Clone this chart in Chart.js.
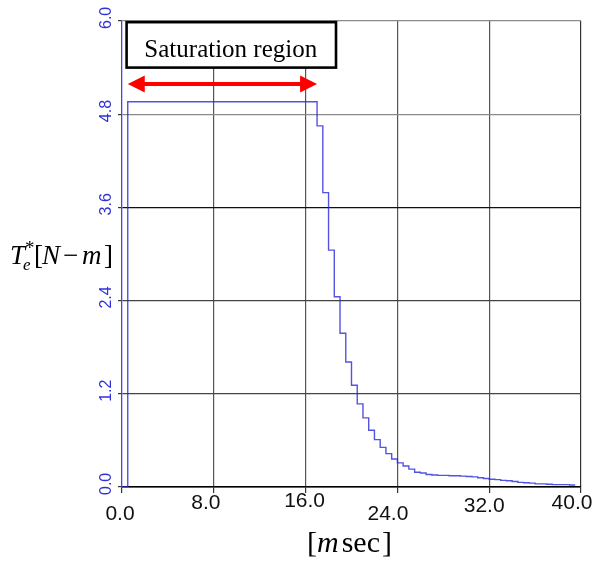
<!DOCTYPE html>
<html>
<head>
<meta charset="utf-8">
<script src="https://cdn.jsdelivr.net/npm/chart.js@4.4.1/dist/chart.umd.min.js"></script>
<style>
  html, body { margin: 0; padding: 0; background: #fff; }
  #wrap { width: 607px; height: 565px; }
</style>
</head>
<body>
<div id="wrap"><canvas id="torqueChart" width="607" height="565"></canvas></div>
<script>
// torque command samples (held for 0.5 ms each)
const timeMs = [0, 0.5, 17.0, 17.5, 18.0, 18.5, 19.0, 19.5, 20.0, 20.5, 21.0, 21.5, 22.0, 22.5,
    23.0, 23.5, 24.0, 24.5, 25.0, 25.5, 26.0, 26.5, 27.0, 27.5, 28.0, 28.5, 29.0, 29.5, 30.0,
    30.5, 31.0, 31.5, 32.0, 32.5, 33.0, 33.5, 34.0, 34.5, 35.0, 35.5, 36.0, 36.5, 37.0, 37.5,
    38.0, 38.5, 39.0, 39.5];
const torque = [0, 4.96, 4.65, 3.79, 3.05, 2.45, 1.98, 1.61, 1.31, 1.07, 0.89, 0.73, 0.61, 0.51,
    0.43, 0.36, 0.31, 0.27, 0.23, 0.19, 0.18, 0.16, 0.155, 0.15, 0.15, 0.145, 0.145, 0.14, 0.135,
    0.13, 0.12, 0.11, 0.10, 0.095, 0.085, 0.08, 0.07, 0.06, 0.055, 0.05, 0.04, 0.04, 0.035, 0.03,
    0.03, 0.03, 0.025, 0.025];

const xTickValues = [0, 8, 16, 24, 32, 40];
const xTickLabels = ['0.0', '8.0', '16.0', '24.0', '32.0', '40.0'];
const yTickValues = [0, 1.2, 2.4, 3.6, 4.8, 6.0];
const yTickLabels = ['0.0', '1.2', '2.4', '3.6', '4.8', '6.0'];

// saturation window: from the first jump to the first drop
const satStart = timeMs[1];
const satEnd = timeMs[2];

// small per-label offsets for the x tick labels [dx, dy below axis]
const xLabelNudge = [[-2, 27], [-8, 16], [-1, 14], [-9.5, 27], [-5, 19], [-9, 16]];

const yGridColors = ['#000000', '#444444', '#444444', '#111111', '#8a8a8a', '#8a8a8a'];
const xGridColors = ['rgba(0,0,0,0)', '#555555', '#555555', '#555555', '#555555', '#333333'];

const SERIF = '"Liberation Serif", "Times New Roman", serif';
const SANS = '"Liberation Sans", Arial, sans-serif';

const decorPlugin = {
    id: 'decor',
    afterDatasetsDraw(chart) {
        const ctx = chart.ctx;
        const xs = chart.scales.x, ys = chart.scales.y;

        // label box
        const bx0 = xs.getPixelForValue(0.4), bx1 = xs.getPixelForValue(18.65);
        const by0 = ys.getPixelForValue(5.985), by1 = ys.getPixelForValue(5.40);
        ctx.save();
        ctx.fillStyle = '#fff';
        ctx.fillRect(bx0, by0, bx1 - bx0, by1 - by0);
        ctx.strokeStyle = '#000';
        ctx.lineWidth = 2.6;
        ctx.strokeRect(bx0, by0, bx1 - bx0, by1 - by0);
        ctx.fillStyle = '#000';
        ctx.font = '25px ' + SERIF;
        ctx.textAlign = 'center';
        ctx.textBaseline = 'alphabetic';
        ctx.fillText('Saturation region', (bx0 + bx1) / 2 - 0.5, by0 + 34.5);

        // double arrow over the saturated interval
        const ax0 = xs.getPixelForValue(satStart), ax1 = xs.getPixelForValue(satEnd);
        const ay = ys.getPixelForValue(5.19);
        const head = 17, half = 8.5;
        ctx.strokeStyle = '#ff0000';
        ctx.fillStyle = '#ff0000';
        ctx.lineWidth = 4;
        ctx.beginPath();
        ctx.moveTo(ax0 + head - 2, ay);
        ctx.lineTo(ax1 - head + 2, ay);
        ctx.stroke();
        ctx.beginPath();
        ctx.moveTo(ax0, ay);
        ctx.lineTo(ax0 + head, ay - half);
        ctx.lineTo(ax0 + head, ay + half);
        ctx.closePath();
        ctx.fill();
        ctx.beginPath();
        ctx.moveTo(ax1, ay);
        ctx.lineTo(ax1 - head, ay - half);
        ctx.lineTo(ax1 - head, ay + half);
        ctx.closePath();
        ctx.fill();
        ctx.restore();
    },
    afterDraw(chart) {
        const ctx = chart.ctx;
        const xs = chart.scales.x, ys = chart.scales.y;
        const area = chart.chartArea;
        ctx.save();

        // x tick labels
        ctx.fillStyle = '#111';
        ctx.font = '21px ' + SANS;
        ctx.textAlign = 'center';
        ctx.textBaseline = 'middle';
        xTickValues.forEach((v, i) => {
            const px = xs.getPixelForValue(v) + xLabelNudge[i][0];
            ctx.fillText(xTickLabels[i], px, area.bottom + xLabelNudge[i][1]);
        });

        // y tick labels, rotated
        ctx.fillStyle = '#3030d8';
        ctx.font = '16px ' + SANS;
        ctx.textAlign = 'left';
        yTickValues.forEach((v, i) => {
            const py = ys.getPixelForValue(v);
            ctx.save();
            ctx.translate(107, py + 8);
            ctx.rotate(-Math.PI / 2);
            ctx.fillText(yTickLabels[i], 0, 0);
            ctx.restore();
        });

        // x axis title: [m sec]
        ctx.fillStyle = '#000';
        ctx.textBaseline = 'alphabetic';
        let x = 307;
        const base = 552;
        ctx.font = '30px ' + SERIF;
        ctx.fillText('[', x, base);
        x += ctx.measureText('[').width;
        ctx.font = 'italic 30px ' + SERIF;
        ctx.fillText('m', x, base);
        x += ctx.measureText('m').width + 3;
        ctx.font = '30px ' + SERIF;
        ctx.fillText('sec', x, base);
        x += ctx.measureText('sec').width + 2;
        ctx.fillText(']', x, base);

        // y axis title: T*_e [N - m]
        const yb = 264;
        ctx.font = 'italic 27px ' + SERIF;
        ctx.fillText('T', 10, yb);
        ctx.font = 'italic 17px ' + SERIF;
        ctx.fillText('e', 23, yb + 6);
        ctx.font = '19px ' + SERIF;
        ctx.fillText('*', 25, yb - 10);
        ctx.font = '27px ' + SERIF;
        ctx.fillText('[', 34, yb);
        ctx.font = 'italic 27px ' + SERIF;
        ctx.fillText('N', 42, yb);
        ctx.font = '27px ' + SERIF;
        ctx.fillText('\u2212', 63, yb);
        ctx.font = 'italic 27px ' + SERIF;
        ctx.fillText('m', 82, yb);
        ctx.font = '27px ' + SERIF;
        ctx.fillText(']', 104, yb);

        ctx.restore();
    }
};

const ctx = document.getElementById('torqueChart').getContext('2d');
const torqueChart = new Chart(ctx, {
    type: 'line',
    data: {
        datasets: [{
            data: timeMs.map((t, i) => ({ x: t, y: torque[i] })),
            borderColor: 'rgba(40, 40, 220, 0.8)',
            borderWidth: 1.4,
            stepped: true,
            pointRadius: 0,
            fill: false
        }]
    },
    options: {
        responsive: false,
        animation: false,
        events: [],
        layout: { padding: { left: 118, right: 26, top: 21, bottom: 72 } },
        plugins: {
            legend: { display: false },
            tooltip: { enabled: false }
        },
        scales: {
            x: {
                type: 'linear',
                min: 0,
                max: 40,
                afterBuildTicks: (scale) => { scale.ticks = xTickValues.map(v => ({ value: v })); },
                afterFit: (scale) => { scale.height = 6; },
                ticks: { display: false },
                grid: {
                    color: (c) => xGridColors[c.index],
                    tickColor: '#333',
                    tickLength: 6,
                    lineWidth: 1.2
                },
                border: { color: '#000', width: 1.6 }
            },
            y: {
                type: 'linear',
                min: 0,
                max: 6,
                afterBuildTicks: (scale) => { scale.ticks = yTickValues.map(v => ({ value: v })); },
                afterFit: (scale) => { scale.width = 4; },
                ticks: { display: false },
                grid: {
                    color: (c) => yGridColors[c.index],
                    tickColor: '#333',
                    tickLength: 4,
                    lineWidth: 1.2
                },
                border: { color: '#4848e0', width: 1.3 }
            }
        }
    },
    plugins: [decorPlugin]
});
</script>
</body>
</html>
